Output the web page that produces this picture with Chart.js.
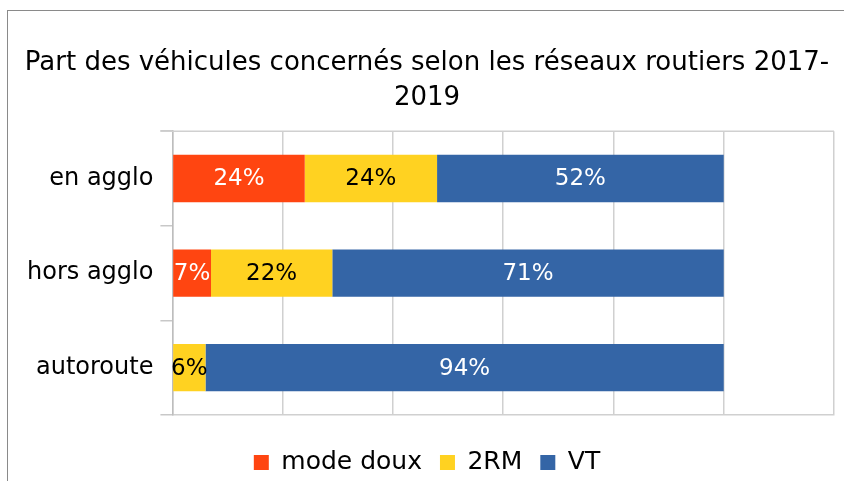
<!DOCTYPE html>
<html>
<head>
<meta charset="utf-8">
<script src="https://cdn.jsdelivr.net/npm/chart.js@4"></script>
<style>
  html, body { margin: 0; padding: 0; background: #fff; }
  #wrap { position: relative; width: 844px; height: 481px; }
  #frame {
    position: absolute; left: 7px; top: 10px; right: 0; bottom: 0;
    border-left: 1.5px solid #8a8a8a; border-top: 1.5px solid #8a8a8a;
    pointer-events: none;
  }
</style>
</head>
<body>
<div id="wrap">
  <canvas id="chart" width="844" height="481"></canvas>
  <div id="frame"></div>
</div>
<script>
const categories = ["en agglo", "hors agglo", "autoroute"];
const modeDoux = [24, 7, 0];
const deuxRM = [24, 22, 6];
const vt = [52, 71, 94];
const seriesNames = ["mode doux", "2RM", "VT"];
const seriesColors = ["#FF4511", "#FFD221", "#3465A6"];
const labelColors = ["#ffffff", "#000000", "#ffffff"];
const fontName = "DejaVu Sans";

// étiquettes de valeurs au centre des segments
const valueLabels = {
    id: "valueLabels",
    afterDatasetsDraw(chart) {
        const ctx = chart.ctx;
        ctx.save();
        ctx.font = "23px '" + fontName + "'";
        ctx.textAlign = "center";
        ctx.textBaseline = "middle";
        chart.data.datasets.forEach((ds, i) => {
            const meta = chart.getDatasetMeta(i);
            meta.data.forEach((bar, j) => {
                const v = ds.data[j];
                if (!v) return;
                ctx.fillStyle = labelColors[i];
                ctx.fillText(v + "%", (bar.x + bar.base) / 2, bar.y + 1);
            });
        });
        ctx.restore();
    }
};

// ligne du haut de la zone de tracé
const topLine = {
    id: "topLine",
    beforeDatasetsDraw(chart) {
        const { ctx, chartArea } = chart;
        ctx.save();
        ctx.strokeStyle = "#d0d0d0";
        ctx.lineWidth = 1.5;
        ctx.beginPath();
        ctx.moveTo(chartArea.left - 12, chartArea.top);
        ctx.lineTo(chartArea.right, chartArea.top);
        ctx.stroke();
        ctx.restore();
    }
};

const ctx = document.getElementById("chart").getContext("2d");
new Chart(ctx, {
    type: "bar",
    data: {
        labels: categories,
        datasets: [modeDoux, deuxRM, vt].map((d, i) => ({
            label: seriesNames[i],
            data: d,
            backgroundColor: seriesColors[i],
            barPercentage: 0.5,
            categoryPercentage: 1
        }))
    },
    options: {
        indexAxis: "y",
        responsive: false,
        animation: false,
        layout: { padding: { left: 20, right: 10, bottom: -4 } },
        scales: {
            x: {
                stacked: true,
                min: 0,
                max: 120,
                ticks: { display: false, stepSize: 20 },
                grid: { color: "#d0d0d0", lineWidth: 1.5, drawTicks: false },
                border: { color: "#d0d0d0", width: 1.5 },
                afterFit(scale) { scale.height += 17; }
            },
            y: {
                stacked: true,
                ticks: { color: "#000", font: { size: 24, family: fontName }, padding: 7 },
                grid: { offset: true, drawOnChartArea: false, tickLength: 12, color: "#c8c8c8", lineWidth: 1.5 },
                border: { color: "#bdbdbd", width: 1.5 }
            }
        },
        plugins: {
            title: {
                display: true,
                text: ["Part des véhicules concernés selon les réseaux routiers 2017-", "2019"],
                color: "#000",
                font: { size: 26, family: fontName, weight: "normal", lineHeight: 1.35 },
                padding: { top: 46, bottom: 15 }
            },
            legend: {
                position: "bottom",
                labels: {
                    color: "#000",
                    font: { size: 25, family: fontName },
                    boxWidth: 15,
                    boxHeight: 15,
                    padding: 18
                }
            },
            tooltip: { enabled: false }
        }
    },
    plugins: [valueLabels, topLine]
});
</script>
</body>
</html>
